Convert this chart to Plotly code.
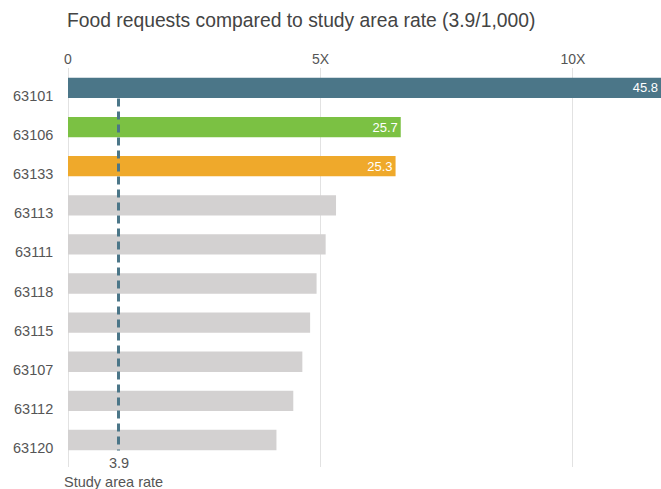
import plotly.graph_objects as go

study_rate = 3.9
zips = ["63101", "63106", "63133", "63113", "63111", "63118", "63115", "63107", "63112", "63120"]
rates = [45.8, 25.7, 25.3, 20.7, 19.9, 19.2, 18.7, 18.1, 17.4, 16.1]
bar_colors = ["#4b7688", "#7bc143", "#efa92b"] + ["#d3d1d1"] * 7
tick_multiples = [0, 5, 10]

# only the highlighted zips get a value label
text = [str(r) if c != "#d3d1d1" else "" for r, c in zip(rates, bar_colors)]

fig = go.Figure()
fig.add_trace(go.Bar(
    x=rates, y=zips, orientation="h",
    marker=dict(color=bar_colors, line=dict(width=0)),
    width=0.52,
    text=text, textposition="inside", insidetextanchor="end",
    textfont=dict(color="white", size=14.5, family="Liberation Sans"),
    hoverinfo="skip",
))

# study area rate reference line
fig.add_shape(type="line", x0=study_rate, x1=study_rate, y0=0.27, y1=9.27,
              xref="x", yref="y", layer="above",
              line=dict(color="#4b7688", width=3, dash="8px,5px"))

for i, z in enumerate(zips):
    fig.add_annotation(x=0, y=i, xref="paper", yref="y", text=z, showarrow=False,
                       xanchor="right", xshift=-13, yshift=-8,
                       font=dict(size=14.5, color="#555555", family="Liberation Sans"))

fig.add_annotation(x=study_rate, y=0, xref="x", yref="paper", text="3.9", showarrow=False,
                   yanchor="middle", yshift=4,
                   font=dict(size=14.5, color="#555555", family="Liberation Sans"))
fig.add_annotation(x=0, y=0, xref="paper", yref="paper", text="Study area rate", showarrow=False,
                   xanchor="left", yanchor="middle", xshift=-6, yshift=-15,
                   font=dict(size=14.5, color="#555555", family="Liberation Sans"))

fig.update_layout(
    width=661, height=489,
    margin=dict(l=68, r=0, t=68, b=22),
    paper_bgcolor="white", plot_bgcolor="white",
    showlegend=False,
    title=dict(text="Food requests compared to study area rate (3.9/1,000)",
               x=67 / 661, xanchor="left", y=1 - 20 / 489, yanchor="middle",
               font=dict(size=19.3, color="#444444", family="Liberation Sans")),
    xaxis=dict(side="top", range=[0, 45.8],
               tickvals=[m * study_rate for m in tick_multiples],
               ticktext=[str(m) + "X" if m else "0" for m in tick_multiples],
               showgrid=True, gridcolor="#e2e2e2", gridwidth=1,
               zeroline=True, zerolinecolor="#e2e2e2", zerolinewidth=1,
               showline=False, ticks="",
               tickfont=dict(size=14, color="#555555", family="Liberation Sans")),
    yaxis=dict(type="category", autorange=False, range=[9.69, -0.51], showticklabels=False,
               showgrid=False, zeroline=False, showline=False, ticks=""),
)

fig.write_html("out.html", config={"displayModeBar": False},
               post_script="document.body.style.margin='0';")
